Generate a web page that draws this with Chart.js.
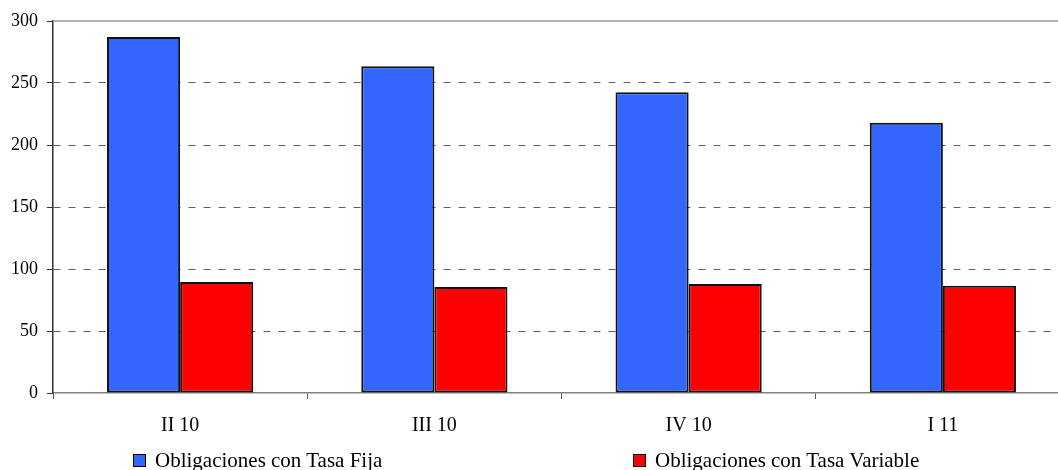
<!DOCTYPE html>
<html>
<head>
<meta charset="utf-8">
<script src="https://cdn.jsdelivr.net/npm/chart.js@4.4.1/dist/chart.umd.min.js"></script>
<style>
  html, body { margin: 0; padding: 0; background: #fff; overflow: hidden; width: 1058px; height: 470px; }
  #wrap { position: absolute; left: 0; top: 0; width: 1070px; height: 470px; }
  .leg { position: absolute; top: 448px; font-family: "Liberation Serif", "DejaVu Serif", serif; font-size: 21px; color: #000; white-space: nowrap; line-height: 24px; }
  .leg .box { position: absolute; left: 0; top: 6px; width: 11px; height: 11px; border: 1.5px solid #000; }
  .leg .txt { position: absolute; left: 22px; top: 0; }
</style>
</head>
<body>
<div id="wrap"><canvas id="c"></canvas></div>
<div id="legend"></div>
<script>
const categories = ["II 10", "III 10", "IV 10", "I 11"];
const seriesNames = ["Obligaciones con Tasa Fija", "Obligaciones con Tasa Variable"];
const fijaValues = [287, 263.5, 242.5, 218];
const variableValues = [89.5, 85.5, 88, 86.5];
const yTicks = [0, 50, 100, 150, 200, 250, 300];
const seriesColors = ["#3366FF", "#FF0000"];

const topLine = {
  id: 'topLine',
  afterDraw(chart) {
    const { ctx, chartArea } = chart;
    ctx.save();
    ctx.strokeStyle = '#999999';
    ctx.lineWidth = 1.5;
    ctx.beginPath();
    ctx.moveTo(chartArea.left, chartArea.top);
    ctx.lineTo(chartArea.right, chartArea.top);
    ctx.stroke();
    ctx.restore();
  }
};

new Chart(document.getElementById('c'), {
  type: 'bar',
  data: {
    labels: categories,
    datasets: [
      { label: seriesNames[0], data: fijaValues, backgroundColor: seriesColors[0], borderColor: '#111', borderWidth: 2, borderSkipped: false },
      { label: seriesNames[1], data: variableValues, backgroundColor: seriesColors[1], borderColor: '#111', borderWidth: 2, borderSkipped: false }
    ]
  },
  options: {
    responsive: true,
    maintainAspectRatio: false,
    animation: false,
    layout: { padding: { top: 21, right: 0, left: 0, bottom: 0 } },
    datasets: { bar: { categoryPercentage: 0.575, barPercentage: 1.0 } },
    plugins: { legend: { display: false }, tooltip: { enabled: false } },
    scales: {
      x: {
        grid: { drawOnChartArea: false, drawTicks: true, tickLength: 6, tickColor: '#555', offset: true },
        border: { display: true, color: '#808080', width: 1.5 },
        ticks: { color: '#000', padding: 15, font: { family: 'Liberation Serif', size: 20 } },
        afterFit(scale) { scale.height = 77; }
      },
      y: {
        min: 0, max: 300,
        afterBuildTicks(scale) { scale.ticks = yTicks.map(v => ({ value: v })); },
        grid: {
          drawTicks: true, tickLength: 6, tickColor: '#333',
          color: ctx => (ctx.tick && (ctx.tick.value === 0 || ctx.tick.value === 300)) ? 'rgba(0,0,0,0)' : '#606060',
          lineWidth: 1
        },
        border: { display: true, color: '#333', width: 1.5, dash: [7, 8] },
        ticks: { color: '#000', padding: 9, font: { family: 'Liberation Serif', size: 18 } },
        afterFit(scale) { scale.width = 53; }
      }
    }
  },
  plugins: [topLine]
});

const legendPos = [133, 633];
const legendEl = document.getElementById('legend');
seriesNames.forEach((name, i) => {
  const d = document.createElement('div');
  d.className = 'leg';
  d.style.left = legendPos[i] + 'px';
  d.innerHTML = '<span class="box" style="background:' + seriesColors[i] + '"></span><span class="txt"></span>';
  d.querySelector('.txt').textContent = name;
  legendEl.appendChild(d);
});
</script>
</body>
</html>
